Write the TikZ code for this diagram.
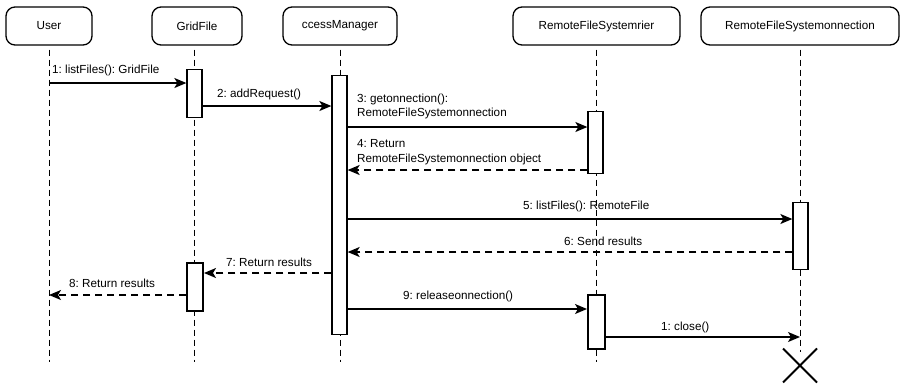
\documentclass[tikz,border=0pt]{standalone}
\usepackage{fontspec}
\setmainfont{Liberation Sans}
\usetikzlibrary{arrows.meta}
\frenchspacing
\begin{document}
\begin{tikzpicture}[x=1pt,y=-1pt,
  every node/.style={font=\fontsize{11.7}{13.5}\selectfont},
  head/.style={draw, line width=1.3pt, rounded corners=9pt, inner sep=0pt},
  life/.style={line width=0.9pt, dash pattern=on 6pt off 4pt, dash phase=-4pt},
  act/.style={draw, fill=white, line width=1.3pt, inner sep=0pt, minimum width=15pt, anchor=north},
  actb/.style={act, line width=2pt},
  msg/.style={line width=1.4pt, -{Stealth[length=12pt, width=10pt, inset=3pt]}},
  ret/.style={msg, dash pattern=on 7pt off 5pt},
  lbl/.style={anchor=base west, inner sep=0pt},
]
\useasboundingbox (0,0) rectangle (901,384);

% participant headers
\node[head, minimum width=86pt, minimum height=38pt] (user) at (49,26) {User};
\node[head, minimum width=90pt, minimum height=38pt] (grid) at (197,26) {GridFile};
\node[head, minimum width=114pt, minimum height=38pt] (acm) at (340,26) {ccessManager};
\node[head, minimum width=167pt, minimum height=38pt] (rfd) at (596.5,26) {RemoteFileSystemrier};
\node[head, minimum width=198pt, minimum height=38pt] (rfc) at (800,26) {RemoteFileSystemonnection};

% lifeline ends
\coordinate (userEnd) at (49,362);
\coordinate (gridEnd) at (194.5,362);
\coordinate (acmEnd) at (340,362);
\coordinate (rfdEnd) at (596,362);
\coordinate (rfcEnd) at (800,352);

\draw[life] (user.south -| userEnd) -- (userEnd);
\draw[life] (grid.south -| gridEnd) -- (gridEnd);
\draw[life] (acm.south -| acmEnd) -- (acmEnd);
\draw[life] (rfd.south -| rfdEnd) -- (rfdEnd);
\draw[life] (rfc.south -| rfcEnd) -- (rfcEnd);

% activation bars
\node[act, minimum height=48pt] (g1) at (194.5,69) {};
\node[act, minimum height=259pt] (a1) at (339.5,75) {};
\node[act, minimum height=62pt] (d1) at (595.5,111) {};
\node[act, minimum height=67pt] (c1) at (800.5,202) {};
\node[actb, minimum width=16pt, minimum height=48pt] (g2) at (195,262) {};
\node[actb, minimum width=17pt, minimum height=54pt] (d2) at (596.5,294) {};

% message anchor points on the lifelines
\coordinate (m1) at (49,83);
\coordinate (m8) at (49,295);
\coordinate (m10) at (800,337);

% messages
\draw[msg] (m1) -- (g1.west |- m1);
\node[lbl] at (52,73.5) {1: listFiles(): GridFile};

\draw[msg] (g1.east |- 0,106) -- (a1.west |- 0,106);
\node[lbl] at (217,97) {2: addRequest()};

\draw[msg] (a1.east |- 0,127) -- (d1.west |- 0,127);
\node[lbl] at (357,102) {3: getonnection():};
\node[lbl] at (357,116) {RemoteFileSystemonnection};

\draw[ret] (d1.west |- 0,170) -- (a1.east |- 0,170);
\node[lbl] at (357,147.5) {4: Return};
\node[lbl] at (357,162.5) {RemoteFileSystemonnection object};

\draw[msg] (a1.east |- 0,219) -- (c1.west |- 0,219);
\node[lbl] at (523,209) {5: listFiles(): RemoteFile};

\draw[ret] (c1.west |- 0,252) -- (a1.east |- 0,252);
\node[lbl] at (564,245) {6: Send results};

\draw[ret] (a1.west |- 0,273) -- (g2.east |- 0,273);
\node[lbl] at (226,266) {7: Return results};

\draw[ret] (g2.west |- m8) -- (m8);
\node[lbl] at (69,287) {8: Return results};

\draw[msg] (a1.east |- 0,309) -- (d2.west |- 0,309);
\node[lbl] at (403,299) {9: releaseonnection()};

\draw[msg] (d2.east |- m10) -- (m10);
\node[lbl] at (661,330) {1: close()};

% destruction mark
\coordinate (x) at (800,365.5);
\draw[line width=2pt] ([shift={(-17,-17)}]x) -- ([shift={(17,17)}]x)
                      ([shift={(-17,17)}]x) -- ([shift={(17,-17)}]x);
\end{tikzpicture}
\end{document}
